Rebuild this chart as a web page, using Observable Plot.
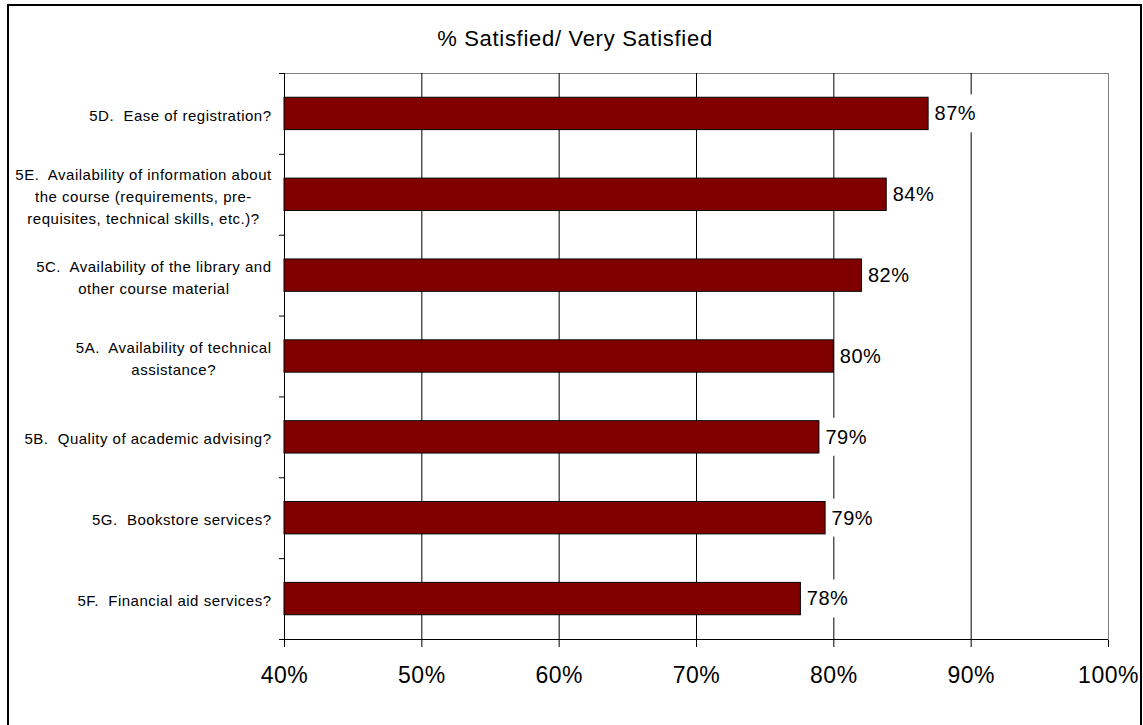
<!DOCTYPE html>
<html>
<head>
<meta charset="utf-8">
<script src="https://cdn.jsdelivr.net/npm/d3@7"></script>
<script src="https://cdn.jsdelivr.net/npm/@observablehq/plot@0.6"></script>
<style>
  html, body { margin: 0; padding: 0; background: #fff; }
  #wrap { position: relative; width: 1143px; height: 725px; overflow: hidden; font-family: "Liberation Sans", Arial, sans-serif; }
  #border { position: absolute; left: 7px; top: 4px; width: 1135px; height: 740px; border: 2px solid #000; box-sizing: border-box; pointer-events: none; }
  #title { position: absolute; left: 0; width: 1150px; top: 28px; text-align: center; font-size: 22px; line-height: 22px; letter-spacing: 0.7px; color: #000; white-space: pre; }
  #chart { position: absolute; left: 0; top: 0; }
  #chart svg text { white-space: pre; }
</style>
</head>
<body>
<div id="wrap">
  <div id="chart"></div>
  <div id="title">% Satisfied/ Very Satisfied</div>
  <div id="border"></div>
</div>
<script>
// ---- data ----
const categories = [
  "5D.  Ease of registration?",
  "5E.  Availability of information about\nthe course (requirements, pre-\nrequisites, technical skills, etc.)?",
  "5C.  Availability of the library and\nother course material",
  "5A.  Availability of technical\nassistance?",
  "5B.  Quality of academic advising?",
  "5G.  Bookstore services?",
  "5F.  Financial aid services?"
];
const values = [86.9, 83.85, 82.05, 80.0, 78.95, 79.4, 77.6];
const valueLabels = ["87%", "84%", "82%", "80%", "79%", "79%", "78%"];
const xTicks = [40, 50, 60, 70, 80, 90, 100];
const gridValues = [50, 60, 70, 80, 90];

const data = categories.map((c, i) => ({label: c, value: values[i], text: valueLabels[i]}));

const W = 1143, H = 725, mL = 284, mR = 35, mT = 73, mB = 86;
const step = (H - mT - mB) / categories.length;

const plot = Plot.plot({
  width: W,
  height: H,
  marginLeft: mL,
  marginRight: mR,
  marginTop: mT,
  marginBottom: mB,
  style: {fontFamily: "'Liberation Sans', Arial, sans-serif", background: "transparent", overflow: "visible"},
  x: {
    domain: [40, 100],
    ticks: xTicks,
    tickFormat: d => d + "%",
    tickSize: 8,
    tickPadding: 19,
    label: null
  },
  y: {
    domain: categories,
    paddingInner: 0.6,
    paddingOuter: 0.3,
    round: false,
    axis: null
  },
  marks: [
    Plot.frame({stroke: "#808080", strokeWidth: 1}),
    Plot.ruleX(gridValues, {stroke: "#000", strokeWidth: 1}),
    Plot.ruleX([40], {stroke: "#000", strokeWidth: 1}),
    // category boundary ticks on the y axis
    Plot.ruleY(categories, {y: d => d, x1: 40, x2: 40, insetLeft: -5, dy: -step / 2, stroke: "#000"}),
    // x axis line
    Plot.ruleY(categories.slice(-1), {y: d => d, x1: 40, x2: 100, insetLeft: -5, dy: step / 2, stroke: "#000"}),
    Plot.barX(data, {x1: 40, x2: "value", y: "label", fill: "#800000", stroke: "#000", strokeWidth: 1}),
    Plot.text(data, {x: "value", y: "label", text: "text", dx: 6, textAnchor: "start", fontSize: 20, fill: "#000"}),
    Plot.text(data, {y: "label", text: "label", frameAnchor: "left", dx: -13, textAnchor: "end", lineAnchor: "middle", lineHeight: 1.47, fontSize: 15, fill: "#000"})
  ]
});

document.getElementById("chart").appendChild(plot);

// styling of x tick labels
d3.select(plot).selectAll('[aria-label^="x-axis"] text')
  .style("font-size", "23px").style("letter-spacing", "0.5px").attr("fill", "#000");
d3.select(plot).selectAll('[aria-label^="x-axis"] line, [aria-label^="x-axis"] path')
  .attr("stroke", "#000");

const textGroups = d3.select(plot).selectAll('g[aria-label="text"]').nodes();
// value labels: white box behind each (hides gridlines as in original)
if (textGroups[0]) {
  const g = textGroups[0];
  d3.select(g).selectAll("text").each(function() {
    this.style.letterSpacing = "0.5px";
    const bb = this.getBBox();
    const r = document.createElementNS("http://www.w3.org/2000/svg", "rect");
    r.setAttribute("x", bb.x - 3);
    r.setAttribute("y", bb.y - 8);
    r.setAttribute("width", bb.width + 6);
    r.setAttribute("height", bb.height + 16);
    r.setAttribute("fill", "#fff");
    const tr = this.getAttribute("transform");
    if (tr) r.setAttribute("transform", tr);
    g.insertBefore(r, this);
  });
}
// category labels: block right-aligned, lines centred within the block
if (textGroups[1]) {
  d3.select(textGroups[1]).selectAll("text").each(function() {
    this.style.letterSpacing = "0.5px";
    const bb = this.getBBox();
    const cx = bb.x + bb.width / 2;
    this.setAttribute("text-anchor", "middle");
    const tspans = this.querySelectorAll("tspan");
    if (tspans.length) tspans.forEach(t => t.setAttribute("x", cx));
    else this.setAttribute("x", cx);
  });
}
</script>
</body>
</html>
